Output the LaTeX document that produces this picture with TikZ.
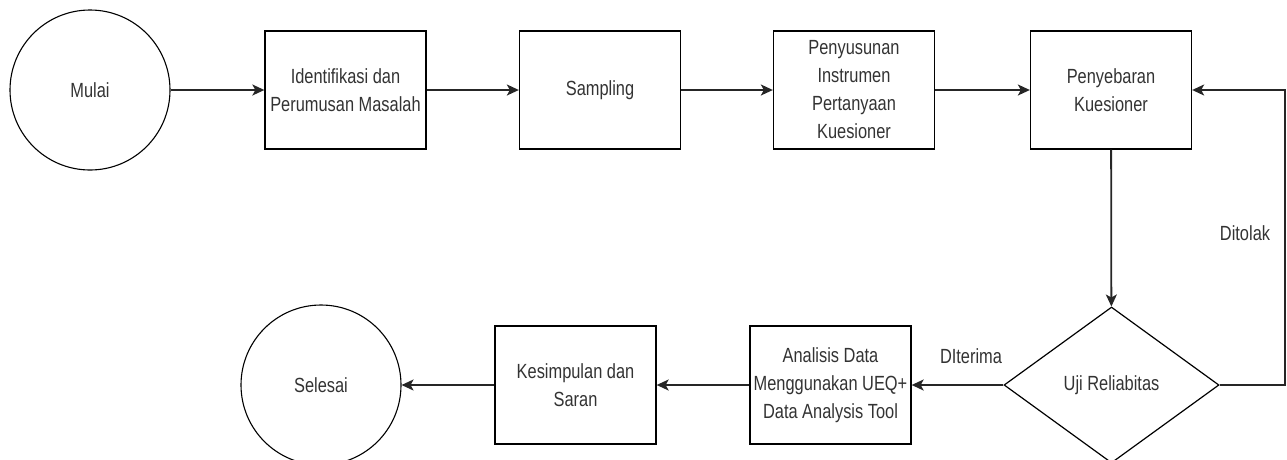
\documentclass[tikz,border=0pt]{standalone}
\usepackage{fontspec}
\setmainfont{Liberation Sans}[FakeStretch=0.8]
\usetikzlibrary{shapes.geometric,arrows.meta}
\begin{document}
\begin{tikzpicture}[x=1pt,y=-1pt,
  txt/.style={font=\fontsize{20.5}{28}\selectfont, text=black!80},
  box/.style={txt, draw, line width=1.3pt, align=center, inner sep=0pt, minimum width=161pt, minimum height=118pt},
  term/.style={txt, draw, circle, line width=1.1pt, inner sep=0pt, minimum size=160pt},
  decide/.style={txt, draw, diamond, line width=1.2pt, inner sep=0pt, minimum width=215pt, minimum height=156pt},
  arr/.style={line width=1.8pt, draw=black!85, -{Stealth[length=12pt,width=11pt,inset=3pt]}},
  lbl/.style={txt}
]
\useasboundingbox (0,0) rectangle (1287,459);
\clip (0,0) rectangle (1287,459);
\node[term] (mulai) at (90,90) {Mulai};
\node[box] (ident) at (345.5,90) {Identifikasi dan\\Perumusan Masalah};
\node[box] (samp) at (600,90) {Sampling};
\node[box] (susun) at (854,90) {Penyusunan\\Instrumen\\Pertanyaan\\Kuesioner};
\node[box] (sebar) at (1111,90) {Penyebaran\\Kuesioner};
\node[decide] (uji) at (1111.5,385) {Uji Reliabitas};
\node[box] (anal) at (830.5,385) {Analisis Data\\Menggunakan UEQ+\\Data Analysis Tool};
\node[box] (simp) at (575.5,385) {Kesimpulan dan\\Saran};
\node[term] (selesai) at (321,385) {Selesai};
\coordinate (loop) at (1285,385);

\draw[arr] (mulai) -- (ident);
\draw[arr] (ident) -- (samp);
\draw[arr] (samp) -- (susun);
\draw[arr] (susun) -- (sebar);
\draw[arr] (sebar) -- (uji);
\draw[arr] (uji.east) -- (loop) |- (sebar.east);
\draw[arr] (uji) -- (anal);
\draw[arr] (anal) -- (simp);
\draw[arr] (simp) -- (selesai);
\node[lbl] (ditolak) at (1245,233) {Ditolak};
\node[lbl] (diterima) at (971,356) {DIterima};
\end{tikzpicture}
\end{document}
